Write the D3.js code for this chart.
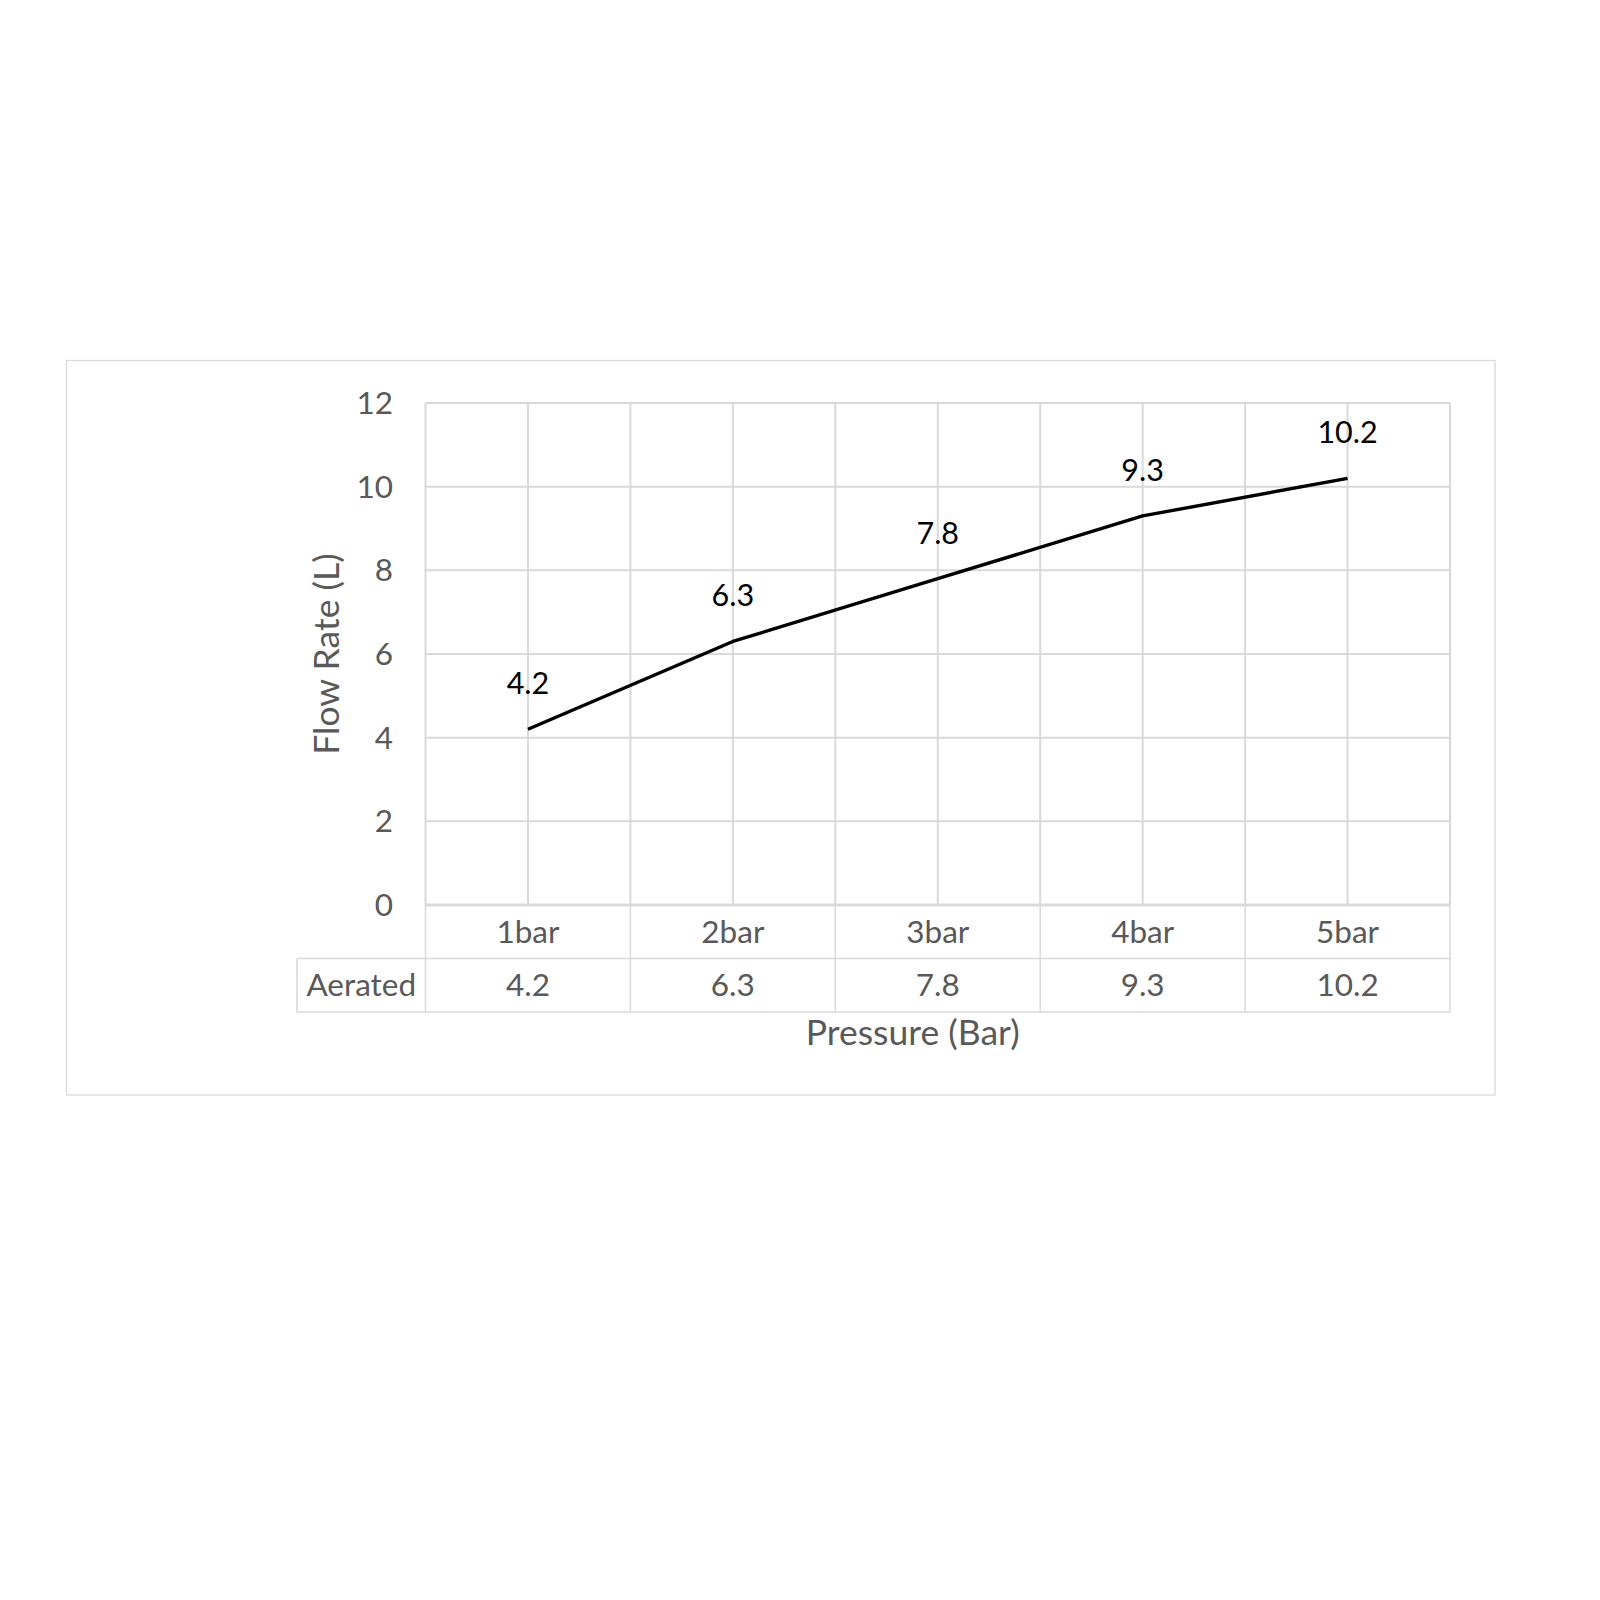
<!DOCTYPE html>
<html><head><meta charset="utf-8">
<script src="https://cdn.jsdelivr.net/npm/d3@7"></script>
<style>body{margin:0;background:#fff}</style>
</head><body>
<svg id="c" width="1600" height="1600"></svg>
<script>
const categories = ["1bar","2bar","3bar","4bar","5bar"];
const seriesName = "Aerated";
const values = [4.2, 6.3, 7.8, 9.3, 10.2];
const yTicks = [0,2,4,6,8,10,12];
const xTitle = "Pressure (Bar)";
const yTitle = "Flow Rate (L)";

const svg = d3.select("#c");
const font = "Lato, 'Open Sans', sans-serif";
const grey = "#595959", grid = "#d9d9d9";
const L = 425.5, R = 1450, T = 403, B = 905;
const rowH = 53.5, tableLeft = 297;
const fs = 31.5, fsTitle = 35.5, fsLabel = 30.5;

svg.append("rect").attr("x",66.5).attr("y",360.5).attr("width",1428.5).attr("height",734.5)
  .attr("fill","#fff").attr("stroke",grid).attr("stroke-width",1.3);

const x = d3.scaleBand().domain(categories).range([L,R]);
const y = d3.scaleLinear().domain([0,12]).range([B,T]);

// horizontal gridlines
svg.append("g").selectAll("line").data(yTicks.filter(d=>d>0)).join("line")
  .attr("x1",L).attr("x2",R).attr("y1",d=>y(d)).attr("y2",d=>y(d))
  .attr("stroke",grid).attr("stroke-width",2);
// vertical gridlines (category centers and boundaries)
const vx = [];
categories.forEach(c=>{vx.push(x(c)); vx.push(x(c)+x.bandwidth()/2);});
vx.push(R);
svg.append("g").selectAll("line").data(vx).join("line")
  .attr("x1",d=>d).attr("x2",d=>d).attr("y1",T).attr("y2",B)
  .attr("stroke",grid).attr("stroke-width",2);
// axis baseline
svg.append("line").attr("x1",L).attr("x2",R).attr("y1",B).attr("y2",B)
  .attr("stroke",grid).attr("stroke-width",3);

// y tick labels
svg.append("g").selectAll("text").data(yTicks).join("text")
  .attr("x",393).attr("y",d=>y(d)).attr("dy","0.35em").attr("text-anchor","end")
  .attr("font-family",font).attr("font-size",fs).attr("fill",grey).text(d=>d);

// data table
const tg = svg.append("g").attr("stroke",grid).attr("stroke-width",1.5);
categories.forEach(c=>{
  tg.append("line").attr("x1",x(c)).attr("x2",x(c)).attr("y1",B).attr("y2",B+2*rowH);
});
tg.append("line").attr("x1",R).attr("x2",R).attr("y1",B).attr("y2",B+2*rowH);
tg.append("line").attr("x1",tableLeft).attr("x2",tableLeft).attr("y1",B+rowH).attr("y2",B+2*rowH);
tg.append("line").attr("x1",tableLeft).attr("x2",R).attr("y1",B+rowH).attr("y2",B+rowH);
tg.append("line").attr("x1",tableLeft).attr("x2",R).attr("y1",B+2*rowH).attr("y2",B+2*rowH);

svg.append("g").selectAll("text").data(categories).join("text")
  .attr("x",d=>x(d)+x.bandwidth()/2).attr("y",B+rowH/2).attr("dy","0.35em")
  .attr("text-anchor","middle").attr("font-family",font).attr("font-size",fs).attr("fill",grey).text(d=>d);
svg.append("g").selectAll("text").data(values).join("text")
  .attr("x",(d,i)=>x(categories[i])+x.bandwidth()/2).attr("y",B+rowH*1.5).attr("dy","0.35em")
  .attr("text-anchor","middle").attr("font-family",font).attr("font-size",fs).attr("fill",grey).text(d=>d);
svg.append("text").attr("x",(tableLeft+L)/2).attr("y",B+rowH*1.5).attr("dy","0.35em")
  .attr("text-anchor","middle").attr("font-family",font).attr("font-size",fs).attr("fill",grey).text(seriesName);

// line
const line = d3.line().x((d,i)=>x(categories[i])+x.bandwidth()/2).y(d=>y(d));
svg.append("path").datum(values).attr("d",line).attr("fill","none")
  .attr("stroke","#000").attr("stroke-width",3.4).attr("stroke-linejoin","round");

// data labels
svg.append("g").selectAll("text").data(values).join("text")
  .attr("x",(d,i)=>x(categories[i])+x.bandwidth()/2).attr("y",d=>y(d)-35)
  .attr("text-anchor","middle").attr("font-family",font).attr("font-size",fsLabel).attr("fill","#000").text(d=>d);

// titles
svg.append("text").attr("x",(L+R)/2 - 25).attr("y",1033).attr("dy","0.35em")
  .attr("text-anchor","middle").attr("font-family",font).attr("font-size",fsTitle).attr("fill",grey).text(xTitle);
svg.append("text").attr("transform","translate(327,"+((T+B)/2)+") rotate(-90)").attr("dy","0.35em")
  .attr("text-anchor","middle").attr("font-family",font).attr("font-size",fsTitle).attr("fill",grey).text(yTitle);
</script>
</body></html>
